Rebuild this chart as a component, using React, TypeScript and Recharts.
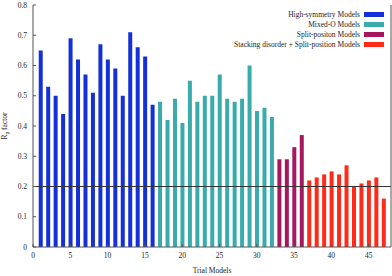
import React from 'react';
import { ComposedChart, Bar, XAxis, YAxis, ReferenceLine, Label } from 'recharts';

// Trial model index and Rp factor for each model family
const highSymTrials = [1, 2, 3, 4, 5, 6, 7, 8, 9, 10, 11, 12, 13, 14, 15, 16];
const highSymRp = [0.65, 0.53, 0.5, 0.44, 0.69, 0.62, 0.57, 0.51, 0.67, 0.62, 0.59, 0.5, 0.71, 0.66, 0.63, 0.47];

const mixedOTrials = [17, 18, 19, 20, 21, 22, 23, 24, 25, 26, 27, 28, 29, 30, 31, 32];
const mixedORp = [0.48, 0.42, 0.49, 0.41, 0.55, 0.48, 0.5, 0.5, 0.57, 0.49, 0.48, 0.49, 0.6, 0.45, 0.46, 0.43];

const splitTrials = [33, 34, 35, 36];
const splitRp = [0.29, 0.29, 0.33, 0.37];

const stackTrials = [37, 38, 39, 40, 41, 42, 43, 44, 45, 46, 47];
const stackRp = [0.22, 0.23, 0.24, 0.25, 0.24, 0.27, 0.2, 0.21, 0.22, 0.23, 0.16];

const xTicks = [0, 5, 10, 15, 20, 25, 30, 35, 40, 45];
const yTicks = [0, 0.1, 0.2, 0.3, 0.4, 0.5, 0.6, 0.7, 0.8];

const COLORS = {
    hs: '#1430d8',
    mo: '#3aabab',
    sp: '#a5185e',
    sd: '#ff2a18',
};

const legendItems = [
    { label: 'High-symmetry Models', color: COLORS.hs },
    { label: 'Mixed-O Models', color: COLORS.mo },
    { label: 'Split-positon Models', color: COLORS.sp },
    { label: 'Stacking disorder + Split-position Models', color: COLORS.sd },
];

const FONT = '"Liberation Serif", "DejaVu Serif", serif';
const AXIS = '#555';

type Row = { x: number; hs?: number; mo?: number; sp?: number; sd?: number };

const buildRows = (): Row[] => {
    const rows: Row[] = [];
    highSymTrials.forEach((x, i) => rows.push({ x, hs: highSymRp[i] }));
    mixedOTrials.forEach((x, i) => rows.push({ x, mo: mixedORp[i] }));
    splitTrials.forEach((x, i) => rows.push({ x, sp: splitRp[i] }));
    stackTrials.forEach((x, i) => rows.push({ x, sd: stackRp[i] }));
    return rows;
};

const fmtY = (v: number) => (v === 0 ? '0' : v.toFixed(1));

const YLabel = () => (
    <text
        x={7}
        y={126}
        transform="rotate(-90 7 126)"
        textAnchor="middle"
        fontFamily={FONT}
        fontSize={7.5}
        fill="#222"
    >
        R<tspan fontSize={5.5} dy={2}>p</tspan>
        <tspan dy={-2}> factor</tspan>
    </text>
);

const App: React.FC = () => {
    const data = buildRows();
    const tickStyle = { fill: '#222', fontSize: 7.5, fontFamily: FONT };

    return (
        <div style={{ position: 'fixed', left: 0, top: 0, width: 392, height: 276, background: '#fff' }}>
            <ComposedChart
                width={392}
                height={276}
                data={data}
                margin={{ top: 5, right: 0, left: 0, bottom: 0 }}
            >
                <XAxis
                    xAxisId="b"
                    dataKey="x"
                    type="number"
                    domain={[0, 48]}
                    ticks={xTicks}
                    height={29}
                    tick={tickStyle}
                    tickSize={-3}
                    tickMargin={9}
                    axisLine={{ stroke: AXIS }}
                    tickLine={{ stroke: AXIS }}
                    allowDataOverflow
                >
                    <Label value="Trial Models" position="insideBottom" offset={3} style={{ fontSize: 7.5, fontFamily: FONT, fill: '#222' }} />
                </XAxis>
                <XAxis
                    xAxisId="t"
                    orientation="top"
                    dataKey="x"
                    type="number"
                    domain={[0, 48]}
                    ticks={xTicks}
                    height={0}
                    tickSize={-3}
                    tickFormatter={() => ''}
                    axisLine={{ stroke: AXIS }}
                    tickLine={{ stroke: AXIS }}
                />
                <YAxis
                    yAxisId="l"
                    type="number"
                    domain={[0, 0.8]}
                    ticks={yTicks}
                    width={33}
                    tick={tickStyle}
                    tickFormatter={fmtY}
                    tickSize={-3}
                    tickMargin={9}
                    axisLine={{ stroke: AXIS }}
                    tickLine={{ stroke: AXIS }}
                >
                    <Label content={<YLabel />} />
                </YAxis>
                <YAxis
                    yAxisId="r"
                    orientation="right"
                    type="number"
                    domain={[0, 0.8]}
                    ticks={yTicks}
                    width={1}
                    tickSize={-3}
                    tickFormatter={() => ''}
                    axisLine={{ stroke: AXIS }}
                    tickLine={{ stroke: AXIS }}
                />
                <Bar xAxisId="b" yAxisId="l" dataKey="hs" stackId="s" fill={COLORS.hs} barSize={4} isAnimationActive={false} />
                <Bar xAxisId="b" yAxisId="l" dataKey="mo" stackId="s" fill={COLORS.mo} barSize={4} isAnimationActive={false} />
                <Bar xAxisId="b" yAxisId="l" dataKey="sp" stackId="s" fill={COLORS.sp} barSize={4} isAnimationActive={false} />
                <Bar xAxisId="b" yAxisId="l" dataKey="sd" stackId="s" fill={COLORS.sd} barSize={4} isAnimationActive={false} />
                <ReferenceLine xAxisId="b" yAxisId="l" y={0.2} stroke="#333" strokeWidth={1} />
            </ComposedChart>

            {/* Legend */}
            <div style={{ position: 'absolute', right: 8, top: 9, fontFamily: FONT, fontSize: 7.5, color: '#222' }}>
                {legendItems.map((item) => (
                    <div key={item.label} style={{ display: 'flex', alignItems: 'center', justifyContent: 'flex-end', height: 10 }}>
                        <span style={{ marginRight: 4, whiteSpace: 'nowrap' }}>{item.label}</span>
                        <span style={{ display: 'inline-block', width: 20, height: 5, background: item.color }} />
                    </div>
                ))}
            </div>
        </div>
    );
};

export default App;
